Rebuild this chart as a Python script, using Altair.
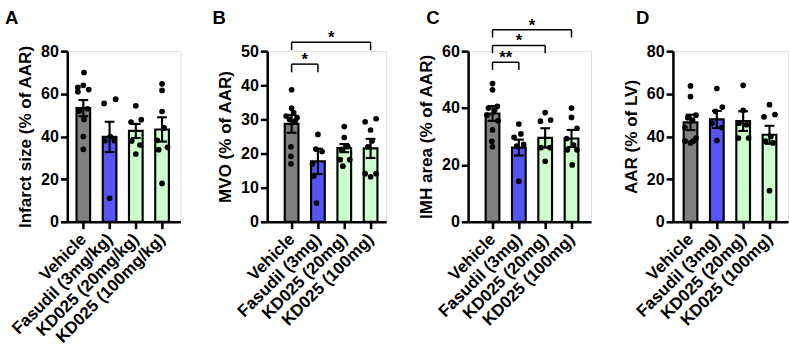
import altair as alt
import pandas as pd

FONT = "Liberation Sans"

groups_A = ["Vehicle", "Fasudil (3mg/kg)", "KD025 (20mg/kg)", "KD025 (100mg/kg)"]
groups_BCD = ["Vehicle", "Fasudil (3mg)", "KD025 (20mg)", "KD025 (100mg)"]
bar_colors = ["#808080", "#5555FA", "#CCFFCC", "#CCFFCC"]

# ---- Panel A: Infarct size (% of AAR)
A_vehicle = [70, 64, 63, 62, 61, 53, 52, 48, 40, 34]
A_fasudil = [57.5, 55.5, 40, 38, 38, 11]
A_kd20 = [54.4, 47.9, 46.8, 37.9, 36, 31.8]
A_kd100 = [64.7, 61.6, 51.7, 44, 38.2, 34.9, 33.8, 18]
A_means = [53.3, 39.8, 42.6, 43.3]
A_sems = [3.8, 7.1, 3.3, 5.7]

# ---- Panel B: MVO (% of AAR)
B_vehicle = [38.7, 33.3, 32, 31, 30.5, 30, 29.5, 22, 19.2, 17]
B_fasudil = [25.6, 21.3, 20.6, 17, 13.4, 5.5]
B_kd20 = [27.9, 24.7, 22.1, 21.2, 18.2, 18.2, 16.3]
B_kd100 = [30.2, 29.3, 26.9, 23.7, 22.0, 14.1, 14.1, 13.2]
B_means = [28.7, 17.7, 21.6, 21.5]
B_sems = [2.6, 3.7, 1.2, 2.8]

# ---- Panel C: IMH area (% of AAR)
C_vehicle = [48.6, 46.4, 40.6, 40, 39.2, 37.5, 35.5, 32.3, 28.3, 26.4]
C_fasudil = [34.4, 30.9, 29.7, 27.2, 26.6, 14.3]
C_kd20 = [38.4, 35.8, 35.4, 26.1, 26.1, 21.3]
C_kd100 = [40, 36.7, 32.9, 29.3, 27, 25.3, 25.3, 20]
C_means = [38.1, 26.1, 29.5, 29.3]
C_sems = [2.6, 2.8, 3.4, 3.0]

# ---- Panel D: AAR (% of LV)
D_vehicle = [63.7, 58.7, 50, 48.8, 47.7, 44.2, 39.3, 37.8, 37.8, 37]
D_fasudil = [62.5, 53.8, 51.8, 46.2, 44.2, 38.1]
D_kd20 = [64, 52.3, 46.2, 45.5, 39.3, 39.3]
D_kd100 = [54.9, 50.3, 49.2, 40, 37.8, 37, 14.6]
D_means = [46.6, 48.0, 47.2, 40.8]
D_sems = [3.6, 4.0, 4.6, 4.2]

# horizontal scatter of the dots inside each bar (-1..1 of half bar)
A_jitter = [[0.1, 0.0, -0.8, 0.8, -0.8, 0.6, -0.6, 0.1, 0.0, 0.0],
            [0.9, -0.8, 0.1, -0.7, 0.7, 0.0],
            [0.0, 0.8, -0.7, -0.6, 0.6, 0.0],
            [0.0, 0.0, 0.0, 0.3, -0.7, 0.8, -0.5, 0.0]]
B_jitter = [[0.0, 0.0, 0.3, -0.8, 0.8, -0.3, 0.5, -0.1, -0.1, -0.1],
            [0.0, -0.3, 0.6, -0.8, -0.6, -0.2],
            [0.0, 0.0, 0.5, -0.4, -0.6, 0.8, -0.2],
            [0.8, -0.8, 0.0, 0.2, -0.4, -0.8, 0.8, 0.0]]
C_jitter = [[0.0, 0.0, 0.7, -0.6, 0.3, -0.8, 0.8, 0.0, -0.1, 0.0],
            [0.0, 0.3, -0.7, 0.7, -0.3, 0.0],
            [0.0, 0.8, -0.7, -0.6, 0.7, 0.0],
            [0.0, 0.0, 0.8, -0.7, 0.3, -0.6, 0.8, 0.1]]
D_jitter = [[0.0, 0.0, 0.8, -0.4, 0.3, -0.8, 0.8, -0.8, 0.4, 0.0],
            [0.0, 0.8, -0.2, -0.7, 0.7, 0.0],
            [0.0, 0.0, -0.6, 0.5, -0.7, 0.8],
            [0.0, 0.8, -0.8, 0.2, -0.6, 0.5, 0.0]]

# significance brackets: (from group, to group, bracket top, leg bottom, label)
B_brackets = [(0, 3, 52.6, 50.3, "*"), (0, 1, 46.2, 43.8, "*")]
C_brackets = [(0, 3, 67.5, 64.8, "*"), (0, 2, 62.0, 59.3, "*"), (0, 1, 56.1, 53.4, "**")]

HALF_BAR = 0.26
HALF_CAP = 0.185


def make_panel(groups, series, jitter, means, sems, ymax, ystep, ytitle,
               width, xdom, letter, letter_dx, brackets):
    n = len(groups)
    label_expr = "[" + ",".join("'%s'" % g for g in groups) + "][datum.value]"
    xscale = alt.Scale(domain=xdom, nice=False, zero=False)
    yscale = alt.Scale(domain=[0, ymax], nice=False, zero=True)
    xaxis = alt.Axis(values=list(range(n)), labelExpr=label_expr, title=None,
                     labelAngle=-45, labelAlign="right", labelBaseline="middle",
                     labelOverlap=False, labelFlush=False, labelPadding=8,
                     labelFontSize=17.3)
    yaxis = alt.Axis(values=list(range(0, ymax + 1, ystep)), title=ytitle,
                     labelPadding=2, titlePadding=6, labelFontSize=16.5,
                     titleFontSize=17.5)

    bars = pd.DataFrame({"i": list(range(n)), "mean": means, "sem": sems,
                         "fill": bar_colors})
    pts = pd.DataFrame({
        "i": [k for k in range(n) for _ in series[k]],
        "v": [v for s in series for v in s],
        "j": [j for js in jitter for j in js],
    })

    base = alt.Chart(bars).transform_calculate(
        x0="datum.i - %f" % HALF_BAR, x1="datum.i + %f" % HALF_BAR,
        c0="datum.i - %f" % HALF_CAP, c1="datum.i + %f" % HALF_CAP,
        lo="datum.mean - datum.sem", hi="datum.mean + datum.sem")

    bar = base.mark_bar(stroke="black", strokeWidth=2.2).encode(
        x=alt.X("x0:Q", scale=xscale, axis=xaxis), x2="x1:Q",
        y=alt.Y("mean:Q", scale=yscale, axis=yaxis), y2=alt.datum(0),
        fill=alt.Fill("fill:N", scale=None))
    err = base.mark_rule(color="black", strokeWidth=2.2).encode(
        x=alt.X("i:Q", scale=xscale, axis=xaxis),
        y=alt.Y("lo:Q", scale=yscale, axis=yaxis), y2="hi:Q")
    cap_hi = base.mark_rule(color="black", strokeWidth=2.2).encode(
        x=alt.X("c0:Q", scale=xscale, axis=xaxis), x2="c1:Q",
        y=alt.Y("hi:Q", scale=yscale, axis=yaxis))
    cap_lo = base.mark_rule(color="black", strokeWidth=2.2).encode(
        x=alt.X("c0:Q", scale=xscale, axis=xaxis), x2="c1:Q",
        y=alt.Y("lo:Q", scale=yscale, axis=yaxis))
    dots = alt.Chart(pts).transform_calculate(
        px="datum.i + datum.j * %f" % HALF_BAR).mark_circle(
        size=34, color="black", opacity=1).encode(
        x=alt.X("px:Q", scale=xscale, axis=xaxis),
        y=alt.Y("v:Q", scale=yscale, axis=yaxis))
    lab = alt.Chart(pd.DataFrame({"t": [letter]})).mark_text(
        font=FONT, fontSize=19, fontWeight="bold", color="black",
        align="left", baseline="alphabetic").encode(
        text="t:N", x=alt.value(letter_dx), y=alt.value(-28))

    layers = [bar, err, cap_hi, cap_lo, dots, lab]
    if brackets:
        bk = pd.DataFrame({
            "a": [b[0] for b in brackets], "b": [b[1] for b in brackets],
            "top": [b[2] for b in brackets], "bot": [b[3] for b in brackets],
            "s": [b[4] for b in brackets]})
        bbase = alt.Chart(bk).transform_calculate(mid="(datum.a + datum.b) / 2")
        layers += [
            bbase.mark_rule(color="black", strokeWidth=1.5).encode(
                x=alt.X("a:Q", scale=xscale, axis=xaxis), x2="b:Q",
                y=alt.Y("top:Q", scale=yscale, axis=yaxis)),
            bbase.mark_rule(color="black", strokeWidth=1.5).encode(
                x=alt.X("a:Q", scale=xscale, axis=xaxis),
                y=alt.Y("top:Q", scale=yscale, axis=yaxis), y2="bot:Q"),
            bbase.mark_rule(color="black", strokeWidth=1.5).encode(
                x=alt.X("b:Q", scale=xscale, axis=xaxis),
                y=alt.Y("top:Q", scale=yscale, axis=yaxis), y2="bot:Q"),
            bbase.mark_text(font=FONT, fontSize=17, fontWeight="bold",
                            color="black", baseline="alphabetic", dy=1).encode(
                x=alt.X("mid:Q", scale=xscale, axis=xaxis),
                y=alt.Y("top:Q", scale=yscale, axis=yaxis), text="s:N"),
        ]
    return alt.layer(*layers).properties(width=width, height=175)


pA = make_panel(groups_A, [A_vehicle, A_fasudil, A_kd20, A_kd100], A_jitter,
                A_means, A_sems, 80, 20, "Infarct size (% of AAR)",
                116, [-0.611, 3.70], "A", -64, None)
pB = make_panel(groups_BCD, [B_vehicle, B_fasudil, B_kd20, B_kd100], B_jitter,
                B_means, B_sems, 50, 10, "MVO (% of AAR)",
                122, [-0.926, 3.593], "B", -56, B_brackets)
pC = make_panel(groups_BCD, [C_vehicle, C_fasudil, C_kd20, C_kd100], C_jitter,
                C_means, C_sems, 60, 20, "IMH area (% of AAR)",
                126, [-0.926, 3.741], "C", -43, C_brackets)
pD = make_panel(groups_BCD, [D_vehicle, D_fasudil, D_kd20, D_kd100], D_jitter,
                D_means, D_sems, 80, 20, "AAR (% of LV)",
                118, [-0.667, 3.704], "D", -38, None)

chart = alt.hconcat(pA, pB, pC, pD, spacing=31).properties(
    padding={"left": 4, "top": 4, "right": 0, "bottom": 0}
).configure_view(stroke=None).configure(background="white").configure_axis(
    domainColor="black", domainWidth=2.6, tickColor="black", tickWidth=2.6,
    tickSize=7, grid=False, labelFont=FONT, labelFontSize=16,
    labelFontWeight="bold", labelColor="black", titleFont=FONT,
    titleFontSize=16, titleFontWeight="bold", titleColor="black")

chart.save("out.html", embed_options={"renderer": "svg", "actions": False})
